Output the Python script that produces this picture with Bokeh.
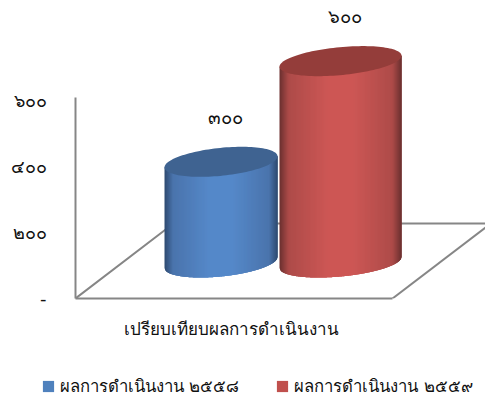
import numpy as np
from bokeh.embed import file_html
from bokeh.layouts import column
from bokeh.resources import INLINE
from bokeh.plotting import figure
from bokeh.models import FixedTicker, Legend, LegendItem, LinearAxis, Range1d
from bokeh.core.properties import value

FONT = "DejaVu Sans"

category = ["เปรียบเทียบผลการดำเนินงาน"]
series_names = ["ผลการดำเนินงาน ๒๕๕๘", "ผลการดำเนินงาน ๒๕๕๙"]
series_values = [300, 600]
value_labels = ["๓๐๐", "๖๐๐"]
tick_values = [0, 200, 400, 600]
tick_labels = ["-", "๒๐๐", "๔๐๐", "๖๐๐"]

centres = [220.5, 340.0]
half_widths = [56.5, 61.0]
side_colours = [("#2d4a6f", "#4a74ac", "#5588c9"), ("#6a302f", "#ad4b49", "#cd5755")]
cap_colours = ["#3f6391", "#943d3a"]
legend_colours = ["#4f81bd", "#c0504d"]

UNIT = 1 / 0.33          # value units per pixel
BASE = 36 * UNIT         # how far the cylinders' base stands back from the front edge
BASE_TILT = 5.5 * UNIT
BASE_DEPTH = 14 * UNIT
HEIGHT_SCALE = 1.017
GREY = "#868686"

p = figure(width=485, height=338, frame_width=410, frame_height=298,
           x_range=Range1d(75, 485), y_range=Range1d(0, 298 * UNIT),
           output_backend="svg", toolbar_location=None, x_axis_type=None, y_axis_type=None,
           min_border_left=75, min_border_right=0, min_border_top=0, min_border_bottom=0,
           frame_align=False)
p.grid.visible = False
p.outline_line_color = None
p.background_fill_color = None

# value axis on the left wall
left = LinearAxis(ticker=FixedTicker(ticks=tick_values), bounds=(0, 610),
                  major_label_overrides=dict(zip(tick_values, tick_labels)))
left.axis_line_color = GREY
left.axis_line_width = 2
left.major_tick_line_color = None
left.minor_tick_line_color = None
left.major_label_standoff = 23
left.major_label_text_font = FONT
left.major_label_text_font_size = "18px"
left.major_label_text_color = "#111111"
p.add_layout(left, "left")

# category axis, its line is the front edge of the floor
bottom = LinearAxis(ticker=FixedTicker(ticks=[231]), bounds=(75, 392),
                    major_label_overrides={231: category[0]})
bottom.axis_line_color = GREY
bottom.axis_line_width = 2
bottom.major_tick_line_color = None
bottom.minor_tick_line_color = None
bottom.major_label_standoff = 14
bottom.major_label_text_font = FONT
bottom.major_label_text_font_size = "17px"
bottom.major_label_text_color = "#111111"
p.add_layout(bottom, "below")

# floor edges behind the cylinders
back = 75 * UNIT
p.line([75, 173, 485], [0, back, back], line_color=GREY, line_width=2)
p.line([392, 485], [0, 71 * UNIT], line_color=GREY, line_width=2)


def shade(frac, stops):
    edge, mid, light = [np.array([int(c[i:i + 2], 16) for i in (1, 3, 5)], float) for c in stops]
    d = abs(frac - 0.5) * 2
    if d > 0.85:
        col = mid + (edge - mid) * (d - 0.85) / 0.15
    elif d > 0.2:
        col = light + (mid - light) * (d - 0.2) / 0.65
    else:
        col = light
    return "#%02x%02x%02x" % tuple(int(round(v)) for v in col)


for i, v in enumerate(series_values):
    cx, rx = centres[i], half_widths[i]
    top = BASE + v * HEIGHT_SCALE
    # the curved side is painted left to right in overlapping strips, so no seams show
    edges = np.linspace(-1, 1, int(2 * rx) + 1)
    for a, b in zip(edges[:-1], edges[1:]):
        c = min(b + 2 * (edges[1] - edges[0]), 1.0)
        profile = np.linspace(a, c, 5)
        front = BASE + BASE_TILT * profile - BASE_DEPTH * np.sqrt(1 - profile ** 2)
        rim = top + BASE_TILT * profile[::-1]
        p.patch(list(cx + rx * profile) + list(cx + rx * profile[::-1]), list(front) + list(rim),
                fill_color=shade((a + b + 2) / 4, side_colours[i]), line_color=None)

    t = np.linspace(0, 2 * np.pi, 120)
    p.patch(cx + rx * np.cos(t), top + BASE_TILT * np.cos(t) + BASE_DEPTH * np.sin(t),
            fill_color=cap_colours[i], line_color=None)

    p.text([cx + 4], [top + 44.5 * UNIT], text=[value_labels[i]], text_font=value(FONT),
           text_font_size="18.5px", text_align="center", text_baseline="middle", text_color="#111111")

# legend strip below the chart
key = figure(width=485, height=58, x_range=Range1d(0, 485), y_range=Range1d(0, 58),
             output_backend="svg", toolbar_location=None, x_axis_type=None, y_axis_type=None,
             min_border=0, frame_align=False)
key.grid.visible = False
key.outline_line_color = None
swatches = [key.quad(left=[-50], right=[-40], bottom=[-50], top=[-40], fill_color=c, line_color=None)
            for c in legend_colours]
legend = Legend(items=[LegendItem(label=n, renderers=[r]) for n, r in zip(series_names, swatches)],
                orientation="horizontal", border_line_color=None, background_fill_alpha=0,
                glyph_width=14, glyph_height=14, label_text_font=FONT, label_text_font_size="16.7px",
                label_text_color="#111111", spacing=36, padding=0, margin=0, label_standoff=5,
                location=(41, 0))
key.add_layout(legend, "center")

open("out.html", "w").write(file_html(column(p, key, spacing=0), INLINE))
